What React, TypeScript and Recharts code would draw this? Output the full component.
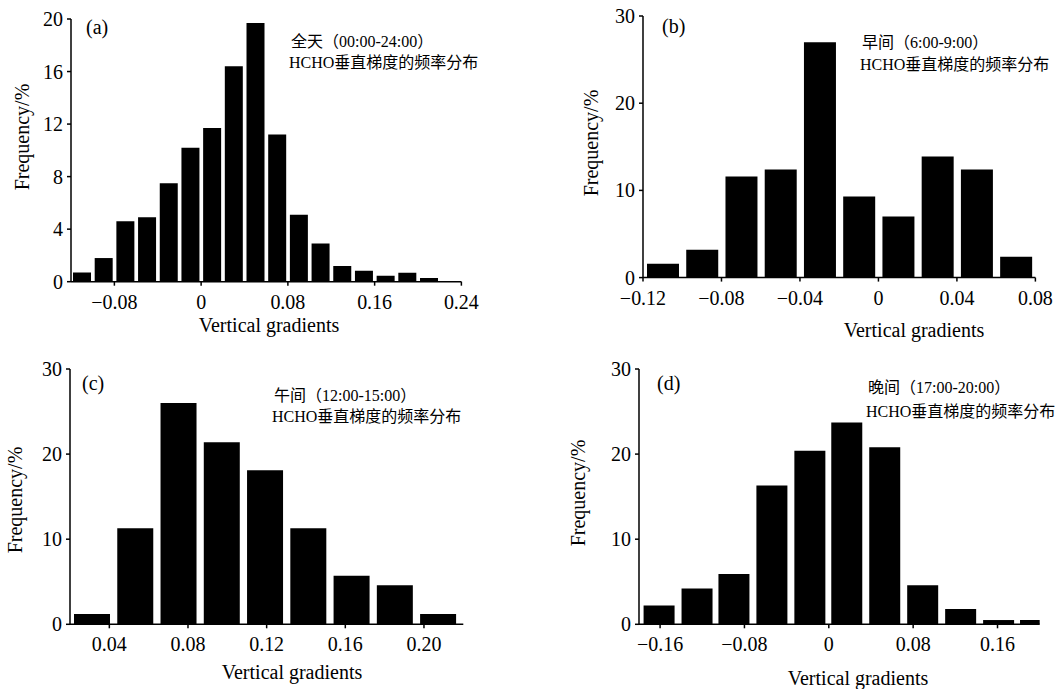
import React from 'react';
import { BarChart, Bar, XAxis, YAxis } from 'recharts';

// (a) whole day 00:00-24:00
const allDayBins = [-0.11, -0.09, -0.07, -0.05, -0.03, -0.01, 0.01, 0.03, 0.05, 0.07, 0.09, 0.11, 0.13, 0.15, 0.17, 0.19, 0.21];
const allDayFreq = [0.7, 1.8, 4.6, 4.9, 7.5, 10.2, 11.7, 16.4, 19.7, 11.2, 5.1, 2.9, 1.2, 0.84, 0.46, 0.69, 0.28];
const allDayXTicks = [-0.08, 0, 0.08, 0.16, 0.24];
const allDayYTicks = [0, 4, 8, 12, 16, 20];

// (b) morning 6:00-9:00
const morningBins = [-0.11, -0.09, -0.07, -0.05, -0.03, -0.01, 0.01, 0.03, 0.05, 0.07];
const morningFreq = [1.6, 3.2, 11.6, 12.4, 27.0, 9.3, 7.0, 13.9, 12.4, 2.4];
const morningXTicks = [-0.12, -0.08, -0.04, 0, 0.04, 0.08];

// (c) noon 12:00-15:00
const noonBins = [0.031, 0.053, 0.075, 0.097, 0.119, 0.141, 0.163, 0.185, 0.207];
const noonFreq = [1.2, 11.3, 26.0, 21.4, 18.1, 11.3, 5.7, 4.6, 1.2];
const noonXTicks = [0.04, 0.08, 0.12, 0.16, 0.2];

// (d) evening 17:00-20:00
const eveningBins = [-0.161, -0.125, -0.09, -0.054, -0.018, 0.017, 0.053, 0.089, 0.125, 0.161, 0.196];
const eveningFreq = [2.2, 4.2, 5.9, 16.3, 20.4, 23.7, 20.8, 4.6, 1.8, 0.5, 0.5];
const eveningXTicks = [-0.16, -0.08, 0, 0.08, 0.16];

const pctYTicks = [0, 10, 20, 30];

const SERIF = '"Liberation Serif", "Times New Roman", "Noto Sans CJK SC", serif';

const fmt = (v: number) => (v === 0 ? '0' : v.toFixed(2).replace('-', '\u2212'));

const txt = (left: number, top: number, size: number, extra: React.CSSProperties = {}): React.CSSProperties => ({
  position: 'absolute',
  left,
  top,
  fontFamily: SERIF,
  fontSize: size,
  lineHeight: 1,
  whiteSpace: 'nowrap',
  color: '#000',
  ...extra,
});

interface PanelProps {
  plot: { x: number; y: number; w: number; h: number };
  bins: number[];
  freq: number[];
  xDomain: [number, number];
  xTicks: number[];
  yMax: number;
  yTicks: number[];
  barSize: number;
  tag: string;
  tagPos: [number, number];
  note: string;
  notePos: [number, number, number];
  xTitle: [number, number];
  yTitle: [number, number];
}

const Panel: React.FC<PanelProps> = (p) => {
  const data = p.bins.map((x, i) => ({ x, freq: p.freq[i] }));
  const padL = 60;
  const padT = 15;
  const padR = 20;
  const padB = 50;
  return (
    <>
      <div style={{ position: 'absolute', left: p.plot.x - padL, top: p.plot.y - padT }}>
        <BarChart
          width={p.plot.w + padL + padR}
          height={p.plot.h + padT + padB}
          data={data}
          margin={{ top: padT, right: padR, left: 0, bottom: 0 }}
        >
          <XAxis
            dataKey="x"
            type="number"
            domain={p.xDomain}
            ticks={p.xTicks}
            interval={0}
            allowDataOverflow
            height={padB}
            tickFormatter={fmt}
            tickSize={4}
            tickMargin={9}
            axisLine={{ stroke: '#000', strokeWidth: 1.5 }}
            tickLine={{ stroke: '#000', strokeWidth: 1.5 }}
            tick={{ fill: '#000', fontSize: 20, fontFamily: SERIF }}
          />
          <YAxis
            type="number"
            domain={[0, p.yMax]}
            ticks={p.yTicks}
            interval={0}
            width={padL}
            tickSize={4}
            tickMargin={4}
            axisLine={{ stroke: '#000', strokeWidth: 1.5 }}
            tickLine={{ stroke: '#000', strokeWidth: 1.5 }}
            tick={{ fill: '#000', fontSize: 20, fontFamily: SERIF }}
          />
          <Bar dataKey="freq" fill="#000" barSize={p.barSize} isAnimationActive={false} />
        </BarChart>
      </div>
      <div style={txt(p.tagPos[0], p.tagPos[1] - 10, 20)}>{p.tag}</div>
      <div style={txt(p.notePos[0], p.notePos[1] - 8, 16)}>{p.note.split('\n')[0]}</div>
      <div style={txt(p.notePos[0] - 2, p.notePos[2] - 8, 16)}>{p.note.split('\n')[1]}</div>
      <div style={txt(p.xTitle[0], p.xTitle[1], 20, { transform: 'translate(-50%, -50%)' })}>Vertical gradients</div>
      <div style={txt(p.yTitle[0], p.yTitle[1], 20, { transform: 'translate(-50%, -50%) rotate(-90deg)' })}>Frequency/%</div>
    </>
  );
};

export default function App() {
  return (
    <div style={{ position: 'absolute', left: 0, top: 0, width: 1059, height: 689, background: '#fff', overflow: 'hidden' }}>
      <Panel
        plot={{ x: 71.3, y: 19, w: 390.4, h: 262.7 }}
        bins={allDayBins}
        freq={allDayFreq}
        xDomain={[-0.12, 0.24]}
        xTicks={allDayXTicks}
        yMax={20}
        yTicks={allDayYTicks}
        barSize={18}
        tag="(a)"
        tagPos={[86, 27]}
        note={'全天（00:00-24:00）\nHCHO垂直梯度的频率分布'}
        notePos={[291, 42, 63]}
        xTitle={[269, 325]}
        yTitle={[22, 137]}
      />
      <Panel
        plot={{ x: 643.3, y: 15.7, w: 392.4, h: 261.6 }}
        bins={morningBins}
        freq={morningFreq}
        xDomain={[-0.12, 0.08]}
        xTicks={morningXTicks}
        yMax={30}
        yTicks={pctYTicks}
        barSize={32}
        tag="(b)"
        tagPos={[662, 26]}
        note={'早间（6:00-9:00）\nHCHO垂直梯度的频率分布'}
        notePos={[862, 43, 65]}
        xTitle={[914, 330]}
        yTitle={[591, 143]}
      />
      <Panel
        plot={{ x: 70, y: 369, w: 393.3, h: 255.3 }}
        bins={noonBins}
        freq={noonFreq}
        xDomain={[0.02, 0.22]}
        xTicks={noonXTicks}
        yMax={30}
        yTicks={pctYTicks}
        barSize={36}
        tag="(c)"
        tagPos={[82, 383]}
        note={'午间（12:00-15:00）\nHCHO垂直梯度的频率分布'}
        notePos={[274, 396, 417]}
        xTitle={[292, 672]}
        yTitle={[15, 500]}
      />
      <Panel
        plot={{ x: 639, y: 369, w: 400.7, h: 255.3 }}
        bins={eveningBins}
        freq={eveningFreq}
        xDomain={[-0.18, 0.2]}
        xTicks={eveningXTicks}
        yMax={30}
        yTicks={pctYTicks}
        barSize={31}
        tag="(d)"
        tagPos={[657, 383]}
        note={'晚间（17:00-20:00）\nHCHO垂直梯度的频率分布'}
        notePos={[868, 388, 412]}
        xTitle={[858, 678]}
        yTitle={[578, 493]}
      />
    </div>
  );
}
